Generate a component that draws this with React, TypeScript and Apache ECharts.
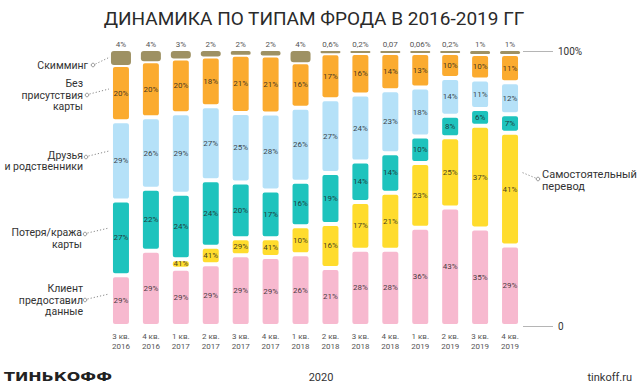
import React, { useEffect, useRef } from "react";
import * as echarts from "echarts";

const quarters = [
  "3 кв.\n2016", "4 кв.\n2016", "1 кв.\n2017", "2 кв.\n2017", "3 кв.\n2017", "4 кв.\n2017", "1 кв.\n2018",
  "2 кв.\n2018", "3 кв.\n2018", "4 кв.\n2018", "1 кв.\n2019", "2 кв.\n2019", "3 кв.\n2019", "4 кв.\n2019",
];

// segment heights (share of bar, %) as drawn
const clientData = [18.5, 27.4, 20.8, 22.5, 25.7, 25.1, 26.1, 21.1, 27.7, 27.7, 35.7, 43.1, 35.5, 29.3];
const selfData = [0, 0, 3.5, 6.3, 6.2, 6.8, 10.2, 16.0, 17.4, 20.8, 23.6, 25.5, 37.3, 41.0];
const lossData = [27.1, 22.5, 23.8, 24.2, 20.3, 17.4, 16.2, 18.5, 14.7, 14.3, 9.6, 7.9, 6.1, 6.7];
const friendsData = [28.9, 26.0, 29.3, 26.9, 25.3, 28.0, 26.9, 26.9, 24.4, 22.9, 17.8, 13.7, 10.7, 11.6];
const cnpData = [20.4, 20.4, 19.9, 18.1, 21.1, 21.1, 16.5, 16.7, 15.1, 13.6, 12.6, 9.1, 9.3, 10.3];
const skimData = [5.1, 3.7, 2.7, 2.0, 1.4, 1.6, 4.1, 0.8, 0.7, 0.7, 0.7, 0.7, 1.1, 1.1];

// printed labels
const clientLabels = ["29%", "29%", "29%", "29%", "29%", "29%", "26%", "21%", "28%", "28%", "36%", "43%", "35%", "29%"];
const selfLabels = ["", "", "41%", "41%", "29%", "41%", "10%", "16%", "17%", "21%", "23%", "25%", "37%", "41%"];
const lossLabels = ["27%", "22%", "24%", "24%", "20%", "17%", "16%", "19%", "14%", "14%", "10%", "8%", "6%", "7%"];
const friendsLabels = ["29%", "26%", "29%", "27%", "25%", "28%", "26%", "27%", "24%", "23%", "18%", "14%", "11%", "12%"];
const cnpLabels = ["20%", "20%", "20%", "18%", "21%", "21%", "16%", "17%", "16%", "14%", "13%", "10%", "10%", "11%"];
const skimLabels = ["4%", "4%", "3%", "2%", "2%", "2%", "4%", "0,6%", "0,2%", "0,07", "0,06%", "0,2%", "1%", "1%"];

const FONT = "Roboto, 'Noto Sans', sans-serif";

export default function App() {
  const ref = useRef<HTMLDivElement>(null);
  useEffect(() => {
    if (!ref.current) return;
    const chart = echarts.init(ref.current, null, { renderer: "svg" });
    const segLabel = (labels: string[]) => ({
      show: true,
      position: "inside",
      fontSize: 8,
      fontFamily: FONT,
      color: "rgba(30,30,30,0.85)",
      formatter: (p: any) => labels[p.dataIndex],
    });
    const mk = (name: string, data: number[], color: string, labels: string[]) => ({
      name,
      type: "bar",
      stack: "all",
      barWidth: 20,
      data,
      itemStyle: { color, borderRadius: 3, borderColor: "#fff", borderWidth: 2 },
      label: segLabel(labels),
    });
    const dot = (cx: number, cy: number, x2: number, y2: number, dir: number) => [
      {
        type: "line",
        shape: { x1: cx + dir * 2.5, y1: cy - 1, x2, y2 },
        style: { stroke: "#8a8a8a", lineWidth: 1, lineDash: [1.2, 2] },
      },
      {
        type: "circle",
        shape: { cx, cy, r: 1.8 },
        style: { fill: "#fff", stroke: "#8a8a8a", lineWidth: 0.9 },
      },
    ];
    const leftText = (text: string, x: number, y: number) => ({
      type: "text",
      x,
      y,
      style: { text, align: "right", verticalAlign: "middle", fontSize: 10.5, lineHeight: 11.7, fontFamily: FONT, fill: "#333" },
    });
    chart.setOption({
      animation: false,
      grid: { left: 106, right: 115, top: 51, bottom: 64 },
      xAxis: {
        type: "category",
        data: quarters,
        axisLine: { show: false },
        axisTick: { show: false },
        axisLabel: { fontSize: 8, lineHeight: 9.5, color: "#555", margin: 6, fontFamily: FONT },
      },
      yAxis: {
        type: "value",
        min: 0,
        max: 100,
        interval: 100,
        position: "right",
        offset: 28,
        axisLine: { show: false },
        axisTick: { show: true, inside: true, length: 30, lineStyle: { color: "#b5b5b5", width: 1 } },
        splitLine: { show: false },
        axisLabel: {
          margin: 5,
          fontSize: 10,
          color: "#333",
          fontFamily: FONT,
          formatter: (v: number) => (v === 100 ? "100%" : "0"),
        },
      },
      series: [
        mk("Клиент предоставил данные", clientData, "#f7b9cf", clientLabels),
        mk("Самостоятельный перевод", selfData, "#ffdc2d", selfLabels),
        mk("Потеря/кража карты", lossData, "#1ec3bd", lossLabels),
        mk("Друзья и родственники", friendsData, "#b5e1f8", friendsLabels),
        mk("Без присутствия карты", cnpData, "#fbab2f", cnpLabels),
        {
          name: "Скимминг",
          type: "bar",
          stack: "all",
          barWidth: 20,
          data: skimData,
          itemStyle: { color: "#9e9163", borderRadius: 3, borderWidth: 0 },
          label: {
            show: true,
            position: "top",
            distance: 3,
            fontSize: 8,
            fontFamily: FONT,
            color: "#555",
            formatter: (p: any) => skimLabels[p.dataIndex],
          },
        },
      ],
      graphic: [
        {
          type: "text",
          x: 314,
          y: 18,
          style: {
            text: "ДИНАМИКА ПО ТИПАМ ФРОДА В 2016-2019 ГГ",
            align: "center",
            verticalAlign: "middle",
            fontSize: 19,
            fontWeight: "normal",
            fontFamily: FONT,
            fill: "#2a2a2a",
          },
        },
        leftText("Скимминг", 88, 65),
        leftText("Без\nприсутствия\nкарты", 83, 95),
        leftText("Друзья\nи родственники", 83, 161),
        leftText("Потеря/кража\nкарты", 82, 238.5),
        leftText("Клиент\nпредоставил\nданные", 83, 300),
        ...dot(93, 65, 110, 57, 1),
        ...dot(87, 95, 109, 89, 1),
        ...dot(86, 157, 109, 151, 1),
        ...dot(85, 234, 109, 228, 1),
        ...dot(85, 300, 109, 294, 1),
        ...dot(538, 179, 521, 172, -1),
        {
          type: "text",
          x: 542,
          y: 180.5,
          style: {
            text: "Самостоятельный\nперевод",
            align: "left",
            verticalAlign: "middle",
            fontSize: 11,
            lineHeight: 11.5,
            fontFamily: FONT,
            fill: "#333",
          },
        },
        {
          type: "text",
          x: 4,
          y: 377,
          scaleX: 1.33,
          style: {
            text: "ТИНЬКОФФ",
            align: "left",
            verticalAlign: "middle",
            fontSize: 12,
            fontWeight: "bold",
            fontFamily: "'DejaVu Sans', sans-serif",
            fill: "#222",
          },
        },
        {
          type: "text",
          x: 321,
          y: 377,
          style: { text: "2020", align: "center", verticalAlign: "middle", fontSize: 11, fontFamily: FONT, fill: "#333" },
        },
        {
          type: "text",
          x: 632,
          y: 377,
          style: { text: "tinkoff.ru", align: "right", verticalAlign: "middle", fontSize: 11, fontFamily: FONT, fill: "#333" },
        },
      ],
    });
    return () => chart.dispose();
  }, []);
  return <div ref={ref} style={{ width: 640, height: 390, position: "absolute", left: 0, top: 0 }} />;
}
